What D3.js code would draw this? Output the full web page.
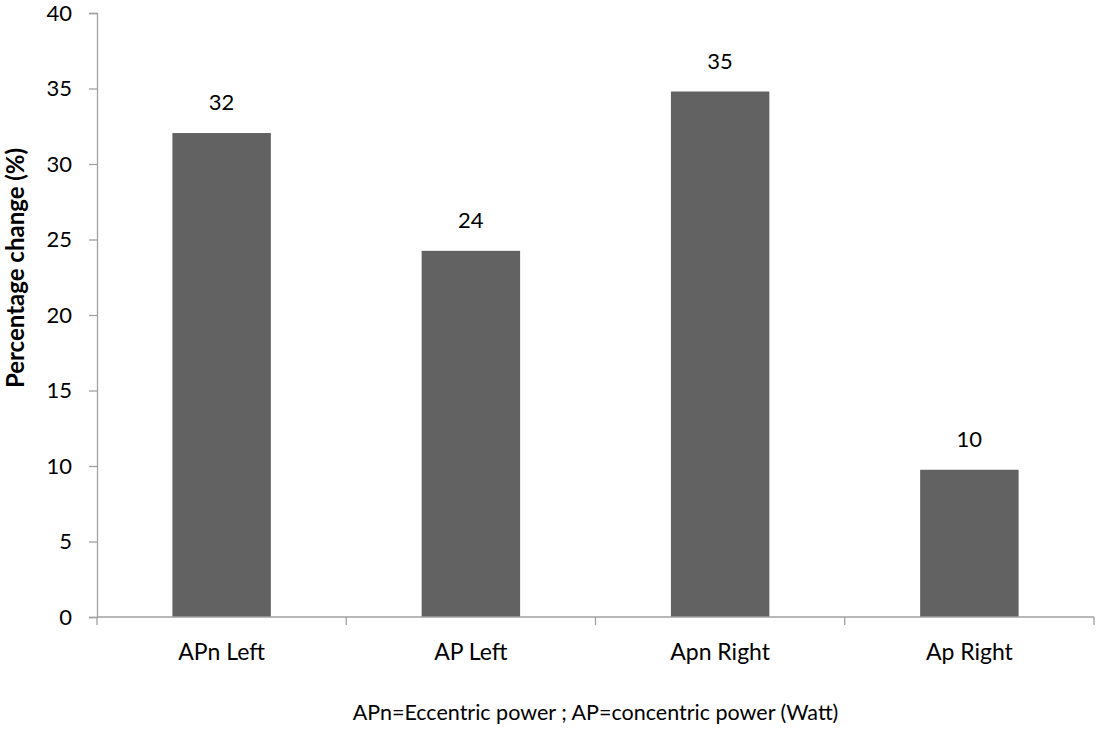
<!DOCTYPE html>
<html lang="en">
<head>
<meta charset="UTF-8">
<title>Percentage change</title>
<script src="https://cdn.jsdelivr.net/npm/d3@7"></script>
<style>
  body { margin: 0; background: #fff; }
  text { font-family: Lato, "Open Sans", sans-serif; fill: #000; }
</style>
</head>
<body>
<script>
var categories = ["APn Left", "AP Left", "Apn Right", "Ap Right"];
var values = [32.05, 24.25, 34.8, 9.75];
var valueLabels = ["32", "24", "35", "10"];
var yTicks = [0, 5, 10, 15, 20, 25, 30, 35, 40];
var yTitle = "Percentage change (%)";
var xTitle = "APn=Eccentric power ; AP=concentric power (Watt)";

var W = 1097, H = 729;
var margin = { top: 13, left: 97, bottom: 112, right: 3 };
var width = W - margin.left - margin.right;
var height = H - margin.top - margin.bottom;
var fs = "22px";

var svg = d3.select("body").append("svg")
  .attr("width", W)
  .attr("height", H);
var g = svg.append("g")
  .attr("transform", "translate(" + margin.left + "," + margin.top + ")");

var x = d3.scaleBand()
  .domain(categories)
  .range([0, width])
  .paddingInner(0.605)
  .paddingOuter(0.3025);
var y = d3.scaleLinear()
  .domain([0, 40])
  .range([height, 0]);

var axisColor = "#a0a0a0";

// y axis
var ay = g.append("g")
  .call(d3.axisLeft(y).tickValues(yTicks).tickSize(8).tickPadding(17));
ay.select(".domain").attr("stroke", axisColor).attr("stroke-width", 1.3);
ay.selectAll(".tick line").attr("stroke", axisColor).attr("stroke-width", 1.3);
ay.selectAll(".tick text").style("font-size", fs).attr("fill", "#000");

// bars
g.selectAll(".bar")
  .data(values)
  .enter().append("rect")
  .attr("class", "bar")
  .attr("x", function (d, i) { return x(categories[i]); })
  .attr("width", x.bandwidth())
  .attr("y", function (d) { return y(d); })
  .attr("height", function (d) { return height - y(d); })
  .attr("fill", "#626262");

// value labels
g.selectAll(".vlab")
  .data(values)
  .enter().append("text")
  .attr("class", "vlab")
  .attr("x", function (d, i) { return x(categories[i]) + x.bandwidth() / 2; })
  .attr("y", function (d) { return y(d) - 23; })
  .attr("text-anchor", "middle")
  .style("font-size", fs)
  .text(function (d, i) { return valueLabels[i]; });

// x axis with category boundary ticks
var step = x.step();
var xb = g.append("g").attr("transform", "translate(0," + height + ")");
xb.append("line")
  .attr("x1", 0).attr("x2", width)
  .attr("stroke", axisColor).attr("stroke-width", 1.3);
xb.selectAll(".bt")
  .data(d3.range(categories.length + 1))
  .enter().append("line")
  .attr("x1", function (i) { return i * step; })
  .attr("x2", function (i) { return i * step; })
  .attr("y1", 0).attr("y2", 8)
  .attr("stroke", axisColor).attr("stroke-width", 1.3);
xb.selectAll(".ct")
  .data(categories)
  .enter().append("text")
  .attr("x", function (d) { return x(d) + x.bandwidth() / 2; })
  .attr("y", 43)
  .attr("text-anchor", "middle")
  .style("font-size", "23px")
  .text(function (d) { return d; });

// titles
svg.append("text")
  .attr("transform", "translate(24,268) rotate(-90)")
  .attr("text-anchor", "middle")
  .style("font-size", "24px")
  .style("font-weight", "bold")
  .text(yTitle);
svg.append("text")
  .attr("x", margin.left + width / 2)
  .attr("y", 720)
  .attr("text-anchor", "middle")
  .style("font-size", "21.5px")
  .text(xTitle);
</script>
</body>
</html>
